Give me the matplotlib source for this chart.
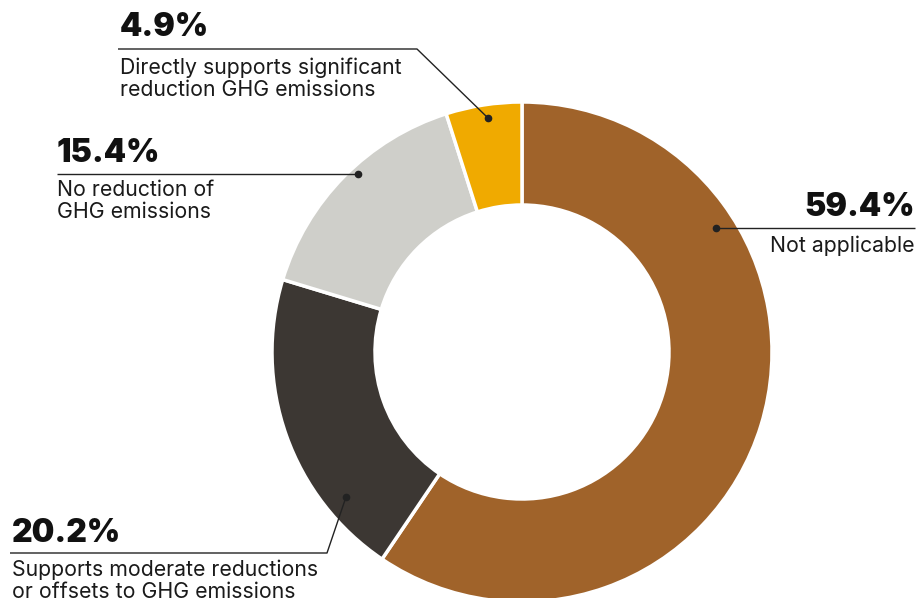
import matplotlib
matplotlib.use("Agg")
import matplotlib.pyplot as plt

labels = ["Not applicable",
          "Supports moderate reductions\nor offsets to GHG emissions",
          "No reduction of\nGHG emissions",
          "Directly supports significant\nreduction GHG emissions"]
values = [59.4, 20.2, 15.4, 4.9]
pct_text = ["59.4%", "20.2%", "15.4%", "4.9%"]
colors = ["#A0632A", "#3C3733", "#CFCFCA", "#F0AA00"]

W, H = 919, 598
fig = plt.figure(figsize=(W / 100, H / 100), dpi=100)
ax = fig.add_axes([0, 0, 1, 1])

def Y(py):
    return H - py

cx, cy, R, r_in = 522, Y(352), 250, 147
ax.pie(values, colors=colors, startangle=90, counterclock=False,
       center=(cx, cy), radius=R, frame=True,
       wedgeprops=dict(width=R - r_in, edgecolor="white", linewidth=2.5))
ax.set_xlim(0, W)
ax.set_ylim(0, H)
ax.set_aspect("equal")
ax.axis("off")

fam = ["Inter", "DejaVu Sans"]
lc = "#222222"

anns = [
    dict(pts=[(716, 228), (915, 228)], num=(915, 208), lab=(915, 246), ha="right"),
    dict(pts=[(346, 497), (327, 553), (10, 553)], num=(12, 534), lab=(12, 581), ha="left"),
    dict(pts=[(358, 174), (57, 174)], num=(57, 153), lab=(57, 201), ha="left"),
    dict(pts=[(488, 118), (417, 49), (118, 49)], num=(120, 28), lab=(120, 79), ha="left"),
]
for a, p, lab in zip(anns, pct_text, labels):
    xs = [q[0] for q in a["pts"]]
    ys = [Y(q[1]) for q in a["pts"]]
    ax.plot(xs, ys, color=lc, lw=1.0, solid_capstyle="butt")
    ax.plot(xs[0], ys[0], "o", color=lc, ms=4.5)
    ax.text(a["num"][0], Y(a["num"][1]), p, ha=a["ha"], va="center",
            fontsize=23, fontweight="black", family=fam, color="#111111")
    ax.text(a["lab"][0], Y(a["lab"][1]), lab, ha=a["ha"], va="center",
            fontsize=15.3, family=fam, color="#1a1a1a", linespacing=1.12)

fig.savefig("out.png", dpi=100, facecolor="white")
